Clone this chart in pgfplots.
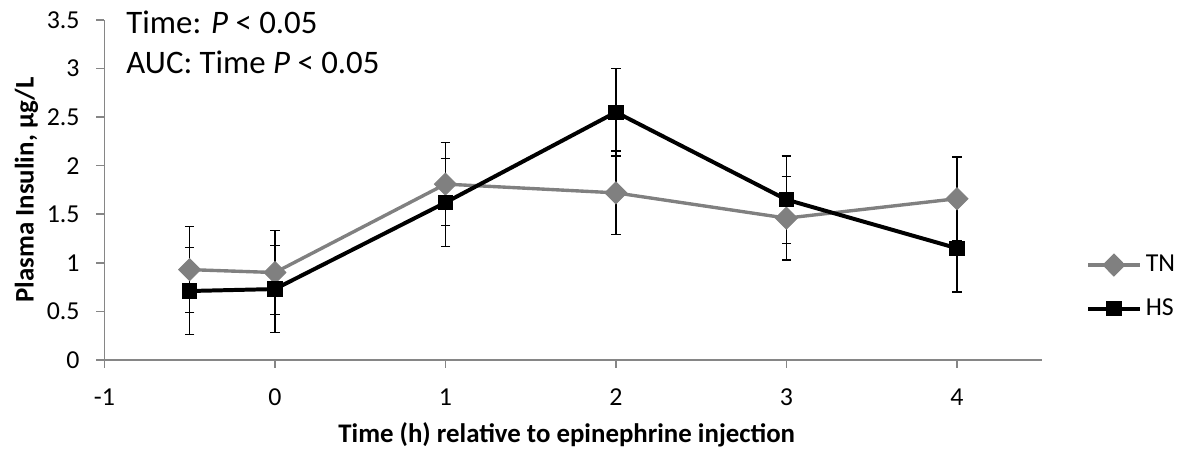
\documentclass[border=0pt]{standalone}
\usepackage{fontspec}
\setmainfont{Carlito}
\usepackage{pgfplots}
\pgfplotsset{compat=1.18}

\definecolor{tngray}{RGB}{128,128,128}
\definecolor{axgray}{RGB}{134,134,134}

\begin{document}
\begin{tikzpicture}
\begin{axis}[
    scale only axis,
    width=471.5pt, height=171pt,
    xmin=-1, xmax=4.5,
    ymin=0, ymax=3.5,
    xtick={-1,0,1,2,3,4},
    ytick={0,0.5,1,1.5,2,2.5,3,3.5},
    axis lines=left,
    axis line style={-, draw=axgray, line width=0.8pt},
    tick style={draw=axgray, line width=0.8pt},
    tick align=outside,
    major tick length=4pt,
    /pgf/number format/assume math mode=true,
    tick label style={font=\fontsize{13}{15}\selectfont},
    xticklabel style={yshift=-7pt},
    yticklabel style={xshift=-5pt},
    xlabel={\textbf{Time (h) relative to epinephrine injection}},
    ylabel={\textbf{Plasma Insulin, µg/L}},
    label style={font=\fontsize{13.5}{15}\selectfont},
    xlabel style={at={(axis description cs:0.493,-0.219)}, anchor=center},
    ylabel style={at={(axis description cs:-0.083,0.5)}, anchor=center},
    legend style={at={(axis description cs:1.04,0.215)}, anchor=west,
        draw=none, fill=none, font=\fontsize{13}{15}\selectfont,
        row sep=8pt, /tikz/every even column/.append style={column sep=2pt}},
    legend cell align=left,
    legend image code/.code={
        \draw[#1, mark repeat=2, mark phase=2] plot coordinates {(0pt,0pt) (13pt,0pt) (26pt,0pt)};
    },
    clip=false,
]
\addplot[tngray, line width=1.7pt, mark=diamond*,
    mark options={solid, fill=tngray, draw=tngray, mark size=5.5pt, xscale=1.33, line width=0.5pt},
    error bars/.cd, y dir=both, y explicit,
    error bar style={black, line width=0.6pt},
    error mark options={rotate=90, mark size=2.4pt, black, line width=0.6pt}]
coordinates {
    (-0.5,0.93) +- (0,0.44)
    (0,0.90) +- (0,0.43)
    (1,1.81) +- (0,0.43)
    (2,1.72) +- (0,0.43)
    (3,1.46) +- (0,0.43)
    (4,1.66) +- (0,0.43)
};
\addlegendentry{TN}
\addplot[black, line width=2pt, mark=square*,
    mark options={solid, fill=black, draw=black, mark size=3.6pt, line width=0.5pt},
    error bars/.cd, y dir=both, y explicit,
    error bar style={black, line width=0.6pt},
    error mark options={rotate=90, mark size=2.4pt, black, line width=0.6pt}]
coordinates {
    (-0.5,0.71) +- (0,0.45)
    (0,0.73) +- (0,0.45)
    (1,1.62) +- (0,0.45)
    (2,2.55) +- (0,0.45)
    (3,1.65) +- (0,0.45)
    (4,1.15) +- (0,0.45)
};
\addlegendentry{HS}
\node[anchor=west, font=\fontsize{16.5}{18}\selectfont] at (axis description cs:0.016,0.994) {Time: \textit{P} < 0.05};
\node[anchor=west, font=\fontsize{16.5}{18}\selectfont] at (axis description cs:0.016,0.874) {AUC: Time \textit{P} < 0.05};
\end{axis}
\path[use as bounding box] (-52.5pt,-45.5pt) rectangle (540pt,181pt);
\end{tikzpicture}
\end{document}
